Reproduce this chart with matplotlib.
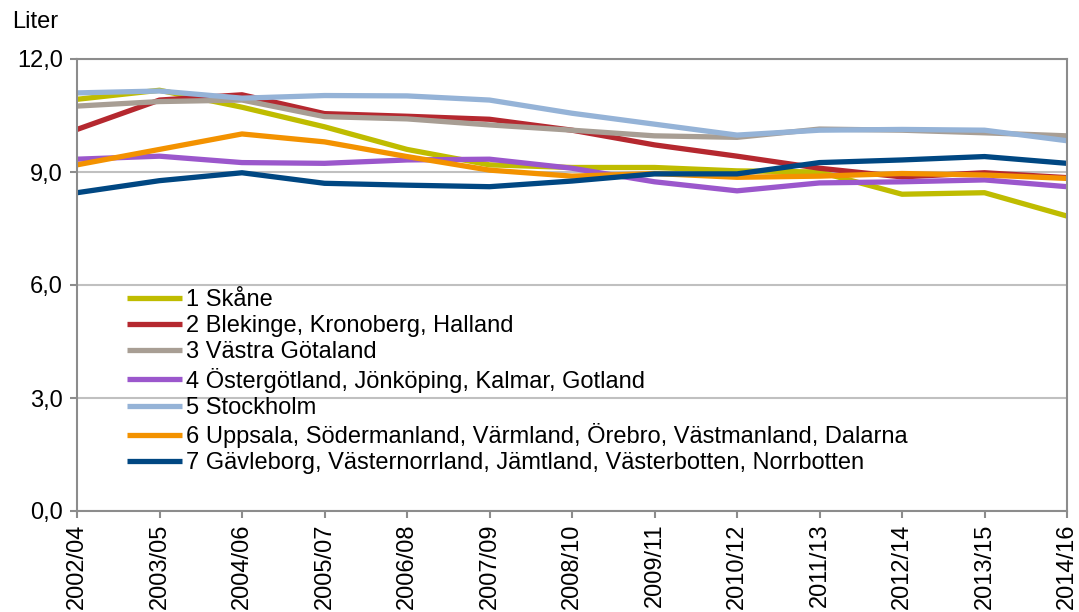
import matplotlib
matplotlib.use("Agg")
import matplotlib.pyplot as plt

periods = ["2002/04", "2003/05", "2004/06", "2005/07", "2006/08", "2007/09", "2008/10",
           "2009/11", "2010/12", "2011/13", "2012/14", "2013/15", "2014/16"]

skane = [10.93, 11.17, 10.72, 10.20, 9.60, 9.19, 9.12, 9.12, 9.03, 9.00, 8.41, 8.45, 7.83]
blekinge = [10.13, 10.91, 11.05, 10.55, 10.48, 10.40, 10.11, 9.72, 9.42, 9.10, 8.87, 8.98, 8.85]
vastra = [10.75, 10.87, 10.91, 10.47, 10.41, 10.25, 10.11, 9.96, 9.92, 10.14, 10.11, 10.04, 9.96]
ostergotland = [9.34, 9.42, 9.25, 9.23, 9.32, 9.34, 9.10, 8.74, 8.50, 8.71, 8.74, 8.79, 8.61]
stockholm = [11.10, 11.15, 10.96, 11.03, 11.02, 10.91, 10.56, 10.27, 9.98, 10.11, 10.13, 10.11, 9.83]
uppsala = [9.19, 9.60, 10.01, 9.80, 9.41, 9.05, 8.89, 8.96, 8.86, 8.89, 8.96, 8.92, 8.83]
gavleborg = [8.45, 8.77, 8.98, 8.70, 8.65, 8.61, 8.76, 8.95, 8.95, 9.25, 9.32, 9.41, 9.23]

labels = ["1 Skåne",
          "2 Blekinge, Kronoberg, Halland",
          "3 Västra Götaland",
          "4 Östergötland, Jönköping, Kalmar, Gotland",
          "5 Stockholm",
          "6 Uppsala, Södermanland, Värmland, Örebro, Västmanland, Dalarna",
          "7 Gävleborg, Västernorrland, Jämtland, Västerbotten, Norrbotten"]
series = [skane, blekinge, vastra, ostergotland, stockholm, uppsala, gavleborg]
colors = ["#BFBC00", "#B5282F", "#A89E94", "#9B57CC", "#95B3D7", "#F39200", "#004782"]

y_ticks = [0, 3, 6, 9, 12]
y_ticklabels = ["0,0", "3,0", "6,0", "9,0", "12,0"]

FS = 17
plt.rcParams['font.family'] = ['Liberation Sans', 'DejaVu Sans']
fig = plt.figure(figsize=(10.79, 6.12), dpi=100)
ax = fig.add_axes([77/1079, 1 - 511/612, (1067-77)/1079, (511-59)/612])

x = list(range(len(periods)))
for s, lab, c in zip(series, labels, colors):
    ax.plot(x, s, color=c, lw=3.8, label=lab, solid_capstyle='butt', solid_joinstyle='round')

ax.set_xlim(0, len(periods) - 1)
ax.set_ylim(0, 12)
ax.set_yticks(y_ticks)
ax.set_yticklabels(y_ticklabels, fontsize=FS)
ax.set_xticks(x)
ax.set_xticklabels(periods, rotation=90, fontsize=FS)
ax.grid(axis='y', color='#C0C0C0', lw=1.5)
ax.set_axisbelow(True)
for sp in ax.spines.values():
    sp.set_color('#8C8C8C')
    sp.set_linewidth(1.5)
ax.tick_params(axis='both', color='#8C8C8C', width=1.5, length=5, direction='out')
ax.tick_params(axis='y', pad=5)
ax.tick_params(axis='x', pad=4)

leg = ax.legend(loc='upper left', bbox_to_anchor=(50/990, (511-289)/452), frameon=False,
                fontsize=FS, handlelength=2.33, handletextpad=0.17, labelspacing=0.18,
                borderaxespad=0, borderpad=0)

fig.text(12/1079, 1 - 22/612, "Liter", fontsize=FS, va='center', ha='left')

fig.savefig("out.png", dpi=100)
